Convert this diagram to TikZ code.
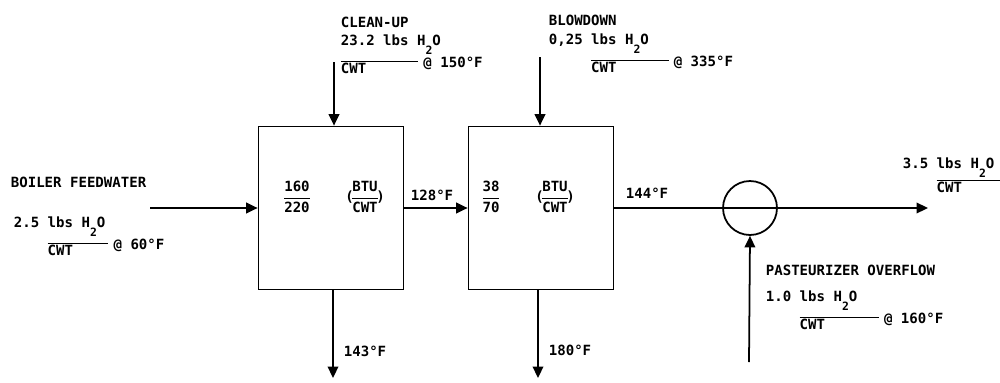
\documentclass[tikz,border=0pt]{standalone}
\usepackage{amsmath}
\usepackage{fontspec}
\setmonofont{DejaVu Sans Mono}
\usetikzlibrary{arrows.meta}

\newcommand{\hsub}[1]{\raisebox{-5.5pt}{\fontsize{6.5}{7}\selectfont #1}}
\newcommand{\attemp}[1]{\hspace{3pt}\raisebox{3.4pt}{@ #1}}
\newcommand{\btu}{(\hspace{-2pt}$\dfrac{\text{BTU}}{\text{CWT}}$\hspace{-2pt})}
% amount, then what follows the bar; optional bar length
\newcommand{\rate}[3][44pt]{%
  \begin{tabular}[t]{@{}l@{ }l@{}}
    #2 & lbs H\hsub{2}O\\[4pt]
       & \rlap{\rule[6.4pt]{#1}{0.8pt}}\makebox[#1][l]{CWT}#3
  \end{tabular}}

\begin{document}
\begin{tikzpicture}[x=0.02cm, y=-0.02cm, line width=1pt,
    >={Triangle[length=6.5pt,width=6pt]},
    every node/.style={font=\ttfamily\bfseries\fontsize{8}{9.5}\selectfont},
    lbl/.style={inner sep=0pt, anchor=base west},
    hxbox/.style={draw, minimum width=2.9cm, minimum height=3.26cm},
    mixer/.style={draw, circle, minimum size=1.08cm, inner sep=0pt}]
  \useasboundingbox (0,0) rectangle (1000,382);
  % ------- units -------
  \node[hxbox] (heatA) at (331,208) {};
  \node[hxbox] (heatB) at (541,208) {};
  \node[mixer] (mix) at (750,208) {};
  \node (ratioA) at (297,197) {$\dfrac{\text{160}}{\text{220}}$};
  \node (unitA) at (365,197) {\btu};
  \node (ratioB) at (491,197) {$\dfrac{\text{38}}{\text{70}}$};
  \node (unitB) at (555,197) {\btu};
  % ------- free ends -------
  \coordinate (feedin) at (150,208);
  \coordinate (cleanin) at (334,62);
  \coordinate (blowin) at (540,57);
  \coordinate (outA) at (333,378);
  \coordinate (outB) at (538,378);
  \coordinate (product) at (928,208);
  \coordinate (pastin) at (749,362);
  % ------- streams -------
  \draw[->] (feedin) -- (heatA.west);
  \draw[->] (heatA.east) -- (heatB.west);
  \draw[->] (heatB.east) -- (mix.west) -- (mix.east) -- (product);
  \draw[->] (pastin) -- (mix.south);
  \draw[->] (cleanin) -- (cleanin |- heatA.north);
  \draw[->] (blowin) -- (blowin |- heatB.north);
  \draw[->] (outA |- heatA.south) -- (outA);
  \draw[->] (outB |- heatB.south) -- (outB);
  % ------- labels -------
  \node[lbl] (feedlabel) at (10,187) {BOILER FEEDWATER};
  \node[lbl] (feedrate) at (13,227) {\rate[34.5pt]{2.5}{\attemp{60°F}}};
  \node[lbl] (cleanlabel) at (340,28) {CLEAN-UP};
  \node[lbl] (cleanrate) at (340,45) {\begin{tabular}[t]{@{}l@{}}
      23.2 lbs H\hsub{2}O\\[4pt]
      \rlap{\rule[6.4pt]{44pt}{0.8pt}}\makebox[44pt][l]{CWT}\attemp{150°F}
    \end{tabular}};
  \node[lbl] (blowlabel) at (548,25) {BLOWDOWN};
  \node[lbl] (blowrate) at (548,44) {\rate{0,25}{\attemp{335°F}}};
  \node[lbl] (outrate) at (902,168) {\rate[42pt]{3.5}{}};
  \node[lbl] (pastlabel) at (765,275) {PASTEURIZER OVERFLOW};
  \node[lbl] (pastrate) at (765,301) {\rate[45pt]{1.0}{\attemp{160°F}}};
  \node[lbl] (tempAB) at (410,200) {128°F};
  \node[lbl] (tempBmix) at (625,198) {144°F};
  \node[lbl] (tempA) at (343,356) {143°F};
  \node[lbl] (tempB) at (548,355) {180°F};
\end{tikzpicture}
\end{document}
